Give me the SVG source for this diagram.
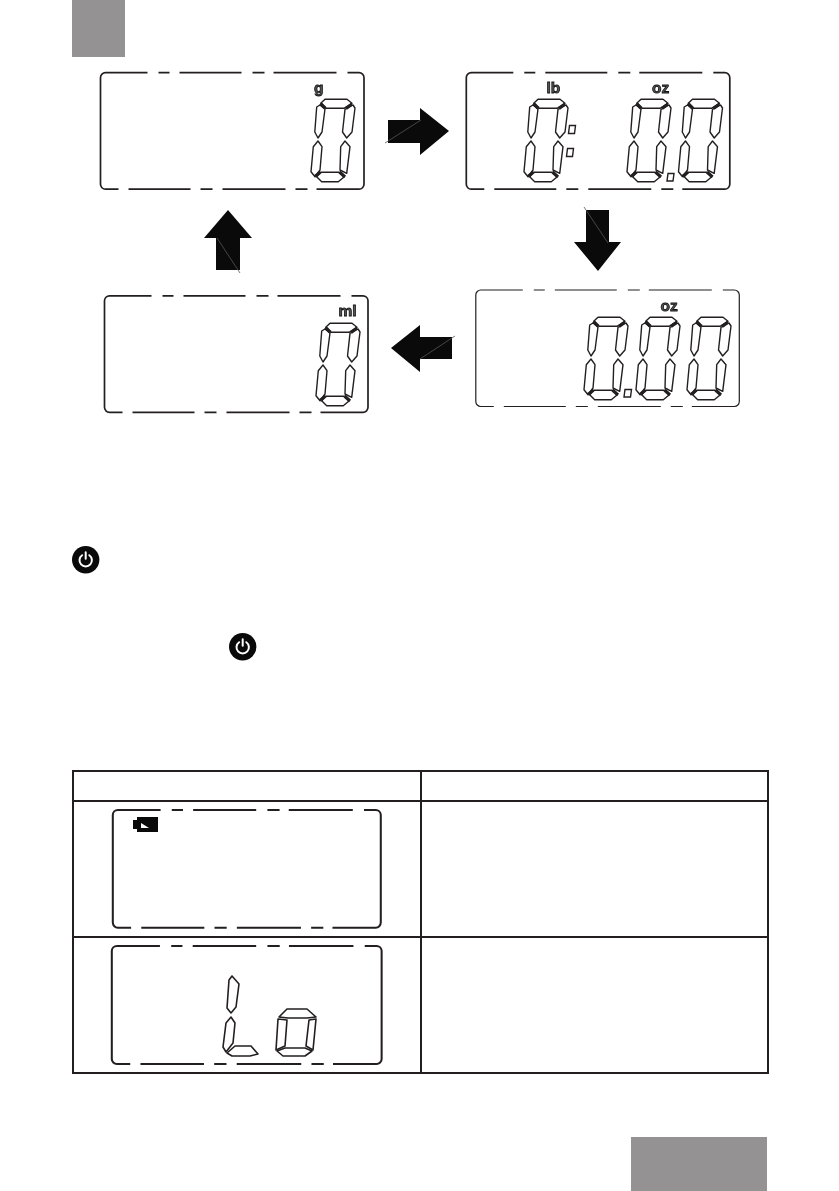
<svg xmlns="http://www.w3.org/2000/svg" width="839" height="1191" viewBox="0 0 839 1191">
<style>
.ink{fill:#0a0a0a}
.gray{fill:#949293}
.frame{fill:none;stroke:#231f20;stroke-width:1.7}
.thin{stroke-width:1.2}
.seg{fill:#fff;stroke:#231f20;stroke-width:1.4;stroke-linejoin:round}
.corner{fill:none;stroke:#231f20;stroke-width:3.2}
.diag{stroke:#555;stroke-width:.8;fill:none}
.unit{font-family:"Liberation Sans",Arial,sans-serif;font-weight:700;fill:#555;stroke:#111;stroke-width:.8;filter:url(#gray-aa)}
.grid{fill:none;stroke:#231f20;stroke-width:2}
.pw{fill:none;stroke:#fff;stroke-width:2;stroke-linecap:round}
.dp{fill:#fff;stroke:#231f20;stroke-width:1.4}
</style>
<defs>
<filter id="gray-aa" x="-20%" y="-20%" width="140%" height="140%"><feOffset dx="0" dy="0"/></filter>
<path id="frameShape" d="M47,0H5A5,5 0 0 0 0,5V111.5A5,5 0 0 0 5,116.5H18M58,0H69M79,0H141M152,0H164M173,0H236M247,0H258.5A5,5 0 0 1 263.5,5V111.5A5,5 0 0 1 258.5,116.5H216M28,116.5H90M100,116.5H112M122,116.5H185M195,116.5H207"/>
<g id="digit">
<polygon class="seg" points="10.700,4.300 15,.3 37,.3 42,4.300 34,9.300 16,9.300"/>
<polygon class="seg" points="10,6 15,10 12,33 8,39 4.800,33 6.700,8"/>
<polygon class="seg" points="43,6 45,9 42,33 36.700,39 32.500,33 35,10.300"/>
<polygon class="seg" points="8,42 12,47.700 10,71 5,77.700 1,72.700 3.300,47.700"/>
<polygon class="seg" points="35,42 40,47.700 36.700,74.300 30,71 30.700,47.700"/>
<polygon class="seg" points="6.700,77.700 10.700,73.300 29.300,73.300 34.300,77.700 28.300,82.700 11.700,82.700"/>
<path class="corner" d="M10.500,4.500L15.500,9.500M42,5L36,9.500M5,77.500L10.500,73M35,78L29.500,73"/>
</g>
<g id="power">
<circle r="13.700" fill="#0a0a0a"/>
<path class="pw" d="M-3.600,-4.500A6.200,6.200 0 1 0 3.600,-4.500M0,-7.500V-1"/>
</g>
</defs>
<rect class="gray" x="72" y="0" width="53" height="57"/>
<rect class="gray" x="631" y="1137" width="136" height="54"/>

<g id="connectors">
<g id="arrow-right"><path class="ink" d="M388,120H420V108L449,131L420,155V143H388Z"/><path class="diag" d="M385,143L421,120"/></g>
<g id="arrow-down"><path class="ink" d="M586,210H609V242H621L598,271L574,242H586Z"/><path class="diag" d="M584,207L608,243"/></g>
<g id="arrow-left"><path class="ink" d="M452,337H420V325L391,348L420,372V359H452Z"/><path class="diag" d="M420,359L455,336"/></g>
<g id="arrow-up"><path class="ink" d="M216,270V238H204L228,210L252,238H240V270Z"/><path class="diag" d="M217,238L240,273"/></g>
</g>

<g id="display-g">
<use href="#frameShape" class="frame" transform="translate(100.500,72.700)"/>
<text class="unit" x="314" y="93" font-size="15.500">g</text>
<use href="#digit" transform="translate(310,99)"/>
</g>
<g id="display-lb-oz">
<use href="#frameShape" class="frame" transform="translate(466.300,72.700)"/>
<text class="unit" x="546.500" y="93" font-size="15.500">lb</text>
<text class="unit" x="652" y="93" font-size="15.500">oz</text>
<use href="#digit" transform="translate(523,99)"/>
<polygon class="dp" points="569.500,125.500 575.500,125.500 574.500,133.500 568.500,133.500"/>
<polygon class="dp" points="567.500,148.500 573.500,148.500 572.500,156.500 566.500,156.500"/>
<use href="#digit" transform="translate(626,99)"/>
<polygon class="dp" points="668,173.500 674,173.500 673,181 667,181"/>
<use href="#digit" transform="translate(677.500,99)"/>
</g>
<g id="display-oz">
<use href="#frameShape" class="frame thin" transform="translate(475.800,290)"/>
<text class="unit" x="660.500" y="311" font-size="15.500">oz</text>
<use href="#digit" transform="translate(583,317)"/>
<polygon class="dp" points="625,389.500 631.500,389.500 630.500,397 624,397"/>
<use href="#digit" transform="translate(635,317)"/>
<use href="#digit" transform="translate(686,317)"/>
</g>
<g id="display-ml">
<use href="#frameShape" class="frame" transform="translate(104.500,295.800)"/>
<text class="unit" x="338.500" y="316" font-size="15.500">ml</text>
<use href="#digit" transform="translate(315,323)"/>
</g>

<g id="power-icon-1"><use href="#power" transform="translate(85.700,559.700)"/></g>
<g id="power-icon-2"><use href="#power" transform="translate(242.700,646.700)"/></g>

<g id="table">
<rect class="grid" x="73" y="771" width="695" height="302"/>
<path class="grid" d="M73,801H768M73,937H768M421,771V1073"/>
</g>
<g id="display-battery">
<use href="#frameShape" class="frame" style="stroke-width:2" transform="translate(112.800,810) scale(1.017,1.01)"/>
<path class="ink" d="M137,817H158V832H137V829H133V820H137Z"/>
<polygon fill="#fff" points="141,823 141,828 149,828"/>
</g>
<g id="display-lo">
<use href="#frameShape" class="frame" style="stroke-width:2" transform="translate(111.800,946) scale(1.024,1.013)"/>
<g class="seg" style="stroke-width:1.600">
<polygon points="232,976 239,984 236,1007 231,1013 227,1008 229,980"/>
<polygon points="231,1017 235,1023 233,1043 226,1052 223,1047 226,1023"/>
<polygon points="235,1046 251,1046 258,1054 250,1056 232,1056 227,1053"/>
<polygon points="287,1009 307,1009 316,1017 307,1018 288,1018 279,1017"/>
<polygon points="278,1019 287,1020 285,1046 276,1050"/>
<polygon points="316,1019 309,1020 306,1046 313,1050"/>
<polygon points="285,1048 305,1048 312,1051 305,1056 283,1056 277,1051"/>
</g>
</g>
</svg>
